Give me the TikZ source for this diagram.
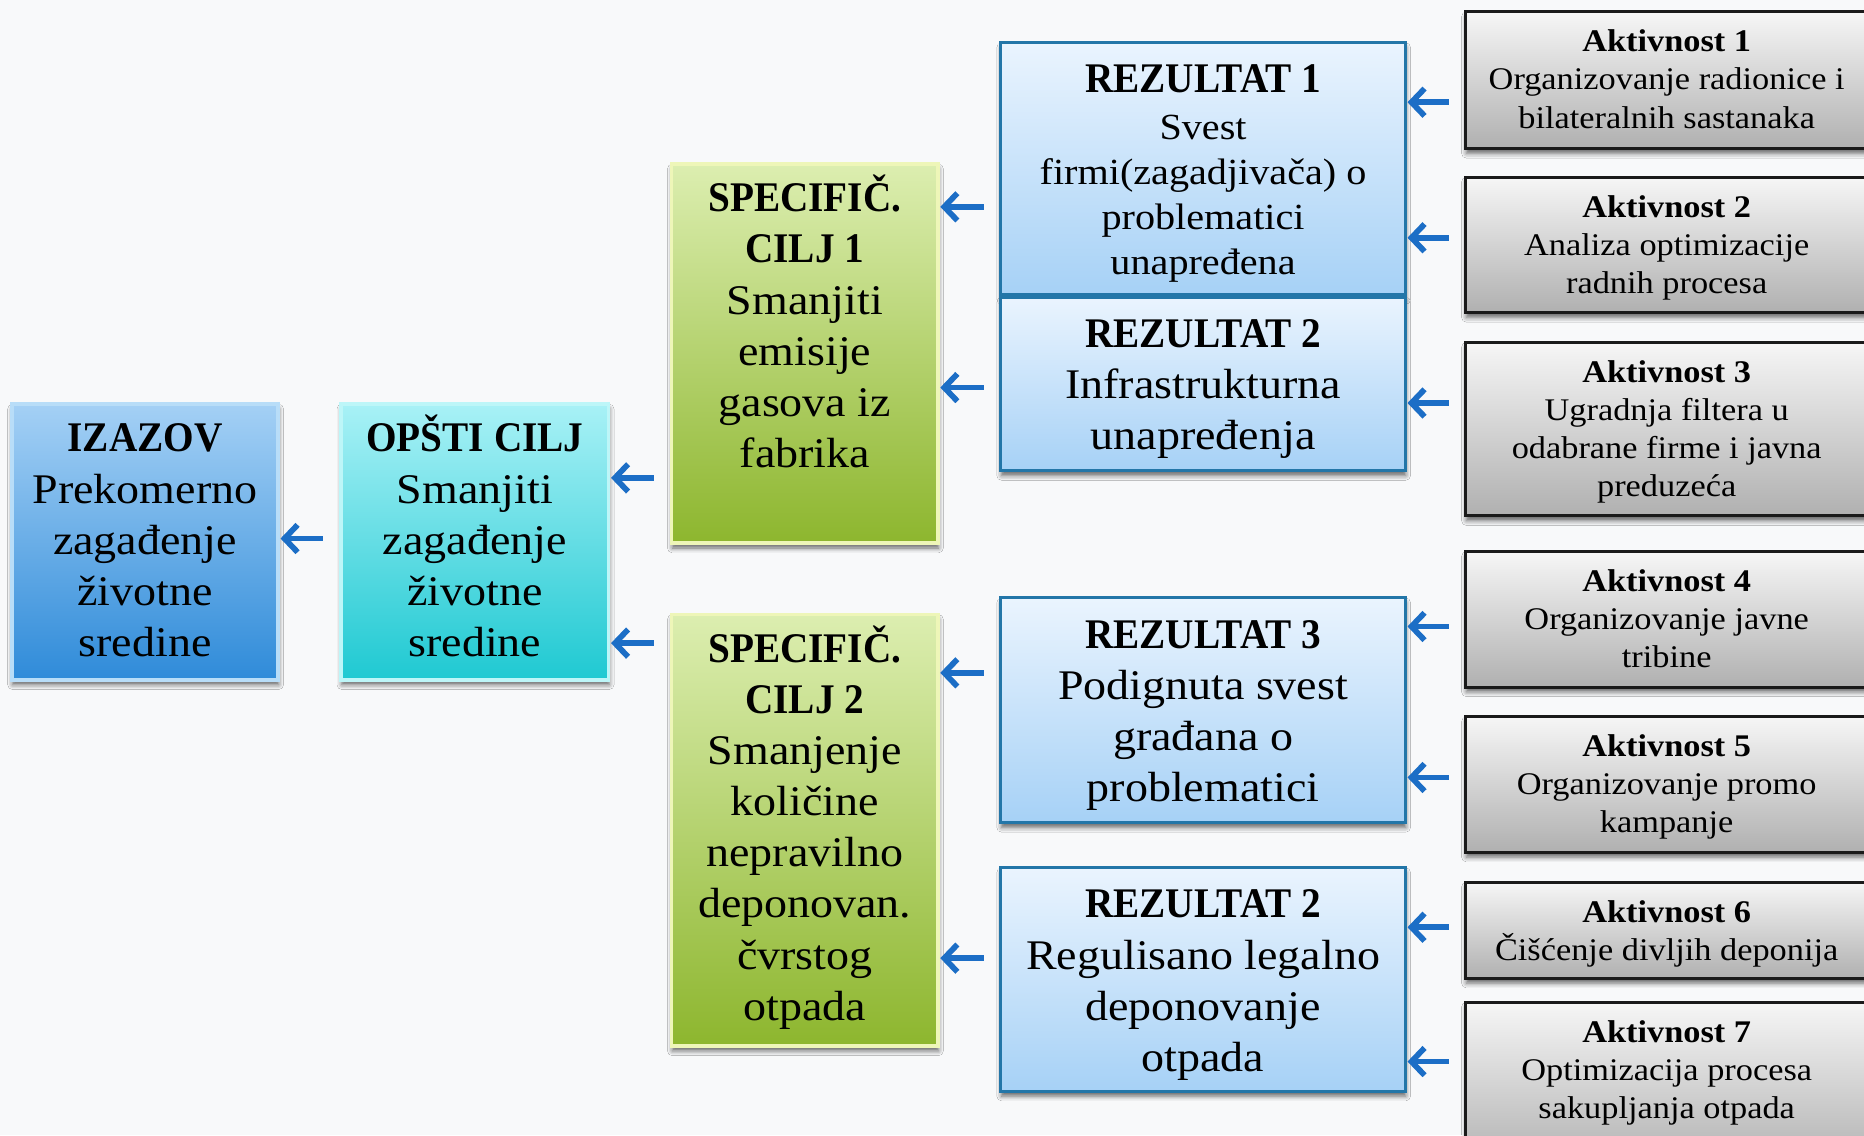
\documentclass[tikz,border=0pt]{standalone}
\usepackage{fontspec}
\setmainfont{Liberation Serif}[FakeStretch=1.09]
\newfontfamily\capsfont{Liberation Serif}[FakeStretch=0.93]
\usetikzlibrary{arrows.meta,shadows.blur}
\definecolor{bg}{HTML}{F8F9FA}
\definecolor{izTop}{HTML}{A4D0F5}
\definecolor{izBot}{HTML}{2F8BD9}
\definecolor{izLine}{HTML}{B8DDF8}
\definecolor{opTop}{HTML}{A8F1F6}
\definecolor{opBot}{HTML}{1FC9D2}
\definecolor{opLine}{HTML}{BDF6F8}
\definecolor{spTop}{HTML}{DCEEB0}
\definecolor{spBot}{HTML}{8DB62E}
\definecolor{spLine}{HTML}{EEF6B8}
\definecolor{rzTop}{HTML}{EAF4FE}
\definecolor{rzBot}{HTML}{A6D1F6}
\definecolor{rzLine}{HTML}{2376A8}
\definecolor{akTop}{HTML}{F6F6F6}
\definecolor{akBot}{HTML}{B0B0B0}
\definecolor{akLine}{HTML}{1A1A1A}
\definecolor{arrblue}{HTML}{1C6EC6}
\newcommand\tsA{\rule{0pt}{34pt}}
\newcommand\tsB{\rule{0pt}{26pt}}
\newcommand\captl[1]{{\capsfont\bfseries #1}}
\begin{document}
\begin{tikzpicture}[x=1pt,y=-1pt,
  box/.style={rectangle, anchor=north west, inner sep=0pt, outer sep=0pt,
    blur shadow={shadow xshift=0.5pt,shadow yshift=-4pt,shadow blur radius=4pt,shadow opacity=60}},
  izbox/.style={box, top color=izTop, bottom color=izBot, draw=izLine, line width=3pt},
  opbox/.style={box, top color=opTop, bottom color=opBot, draw=opLine, line width=3pt},
  spbox/.style={box, top color=spTop, bottom color=spBot, draw=spLine, line width=3pt},
  rzbox/.style={box, top color=rzTop, bottom color=rzBot, draw=rzLine, line width=2.5pt, minimum width=340pt},
  akbox/.style={box, top color=akTop, bottom color=akBot, draw=akLine, line width=2.5pt, minimum width=345pt},
  txt/.style={anchor=north, inner sep=0pt, align=center, text=black},
  bigtxt/.style={txt, font=\fontsize{35.5}{43}\selectfont},
  aktxt/.style={txt, font=\fontsize{26.5}{32}\selectfont},
  arr/.style={draw=arrblue, line width=4.8pt, arrows={Straight Barb[length=11pt,width=23pt]-}, shorten <=2pt}
]
\path[use as bounding box, fill=bg] (0,0) rectangle (1568,955);
\begin{scope}
\clip (0,0) rectangle (1568,955);
% level 1 and 2
\node[izbox, minimum width=224pt, minimum height=232pt] (iz) at (10,340) {};
\node[bigtxt] (izt) at (122,346) {\tsA\captl{IZAZOV}\\Prekomerno\\zagađenje\\životne\\sredine};
\node[opbox, minimum width=225pt, minimum height=232pt] (op) at (287,340) {};
\node[bigtxt] (opt) at (399.5,346) {\tsA\captl{OPŠTI CILJ}\\Smanjiti\\zagađenje\\životne\\sredine};
% specific goals
\node[spbox, minimum width=224pt, minimum height=319pt] (s1) at (565,138) {};
\node[bigtxt] (s1t) at (677,144) {\tsA\captl{SPECIFIČ.}\\\captl{CILJ 1}\\Smanjiti\\emisije\\gasova iz\\fabrika};
\node[spbox, minimum width=224pt, minimum height=363pt] (s2) at (565,517) {};
\node[bigtxt] (s2t) at (677,523) {\tsA\captl{SPECIFIČ.}\\\captl{CILJ 2}\\Smanjenje\\količine\\nepravilno\\deponovan.\\čvrstog\\otpada};
% results
\node[rzbox, minimum height=212pt] (r1) at (842,36) {};
\node[txt, font=\fontsize{31}{38}\selectfont] (r1t) at (1012,44) {\tsA{\fontsize{35.5}{38}\selectfont\captl{REZULTAT 1}}\\[1pt]Svest\\firmi(zagadjivača) o\\problematici\\unapređena};
\node[rzbox, minimum height=146pt] (r2) at (842,250) {};
\node[bigtxt] (r2t) at (1012,258) {\tsA\captl{REZULTAT 2}\\Infrastrukturna\\unapređenja};
\node[rzbox, minimum height=189pt] (r3) at (842,503) {};
\node[bigtxt] (r3t) at (1012,511) {\tsA\captl{REZULTAT 3}\\Podignuta svest\\građana o\\problematici};
\node[rzbox, minimum height=188pt] (r4) at (842,730) {};
\node[bigtxt] (r4t) at (1012,738) {\tsA\captl{REZULTAT 2}\\Regulisano legalno\\deponovanje\\otpada};
% activities
\node[akbox, minimum height=115pt] (a1) at (1233,10) {};
\node[aktxt] (a1t) at (1402,17.5) {\tsB\textbf{Aktivnost 1}\\Organizovanje radionice i\\bilateralnih sastanaka};
\node[akbox, minimum height=114pt] (a2) at (1233,149) {};
\node[aktxt] (a2t) at (1402,156.5) {\tsB\textbf{Aktivnost 2}\\Analiza optimizacije\\radnih procesa};
\node[akbox, minimum height=146pt] (a3) at (1233,288) {};
\node[aktxt] (a3t) at (1402,295.5) {\tsB\textbf{Aktivnost 3}\\Ugradnja filtera u\\odabrane firme i javna\\preduzeća};
\node[akbox, minimum height=114pt] (a4) at (1233,464) {};
\node[aktxt] (a4t) at (1402,471.5) {\tsB\textbf{Aktivnost 4}\\Organizovanje javne\\tribine};
\node[akbox, minimum height=114pt] (a5) at (1233,603) {};
\node[aktxt] (a5t) at (1402,610.5) {\tsB\textbf{Aktivnost 5}\\Organizovanje promo\\kampanje};
\node[akbox, minimum height=81pt] (a6) at (1233,742) {};
\node[aktxt] (a6t) at (1402,749.5) {\tsB\textbf{Aktivnost 6}\\Čišćenje divljih deponija};
\node[akbox, minimum height=140pt] (a7) at (1233,843) {};
\node[aktxt] (a7t) at (1402,850.5) {\tsB\textbf{Aktivnost 7}\\Optimizacija procesa\\sakupljanja otpada};
% arrow tails
\coordinate (t0) at (272,453);
\coordinate (t1) at (550,402);
\coordinate (t2) at (550,541);
\coordinate (t3) at (828,174);
\coordinate (t4) at (828,326);
\coordinate (t5) at (828,566);
\coordinate (t6) at (828,806);
\coordinate (u1) at (1219,86);
\coordinate (u2) at (1219,200);
\coordinate (u3) at (1219,339);
\coordinate (u4) at (1219,527);
\coordinate (u5) at (1219,654);
\coordinate (u6) at (1219,780);
\coordinate (u7) at (1219,893);
% arrows
\draw[arr] (iz.east |- t0) -- (t0);
\draw[arr] (op.east |- t1) -- (t1);
\draw[arr] (op.east |- t2) -- (t2);
\draw[arr] (s1.east |- t3) -- (t3);
\draw[arr] (s1.east |- t4) -- (t4);
\draw[arr] (s2.east |- t5) -- (t5);
\draw[arr] (s2.east |- t6) -- (t6);
\draw[arr] (r1.east |- u1) -- (u1);
\draw[arr] (r1.east |- u2) -- (u2);
\draw[arr] (r2.east |- u3) -- (u3);
\draw[arr] (r3.east |- u4) -- (u4);
\draw[arr] (r3.east |- u5) -- (u5);
\draw[arr] (r4.east |- u6) -- (u6);
\draw[arr] (r4.east |- u7) -- (u7);
\end{scope}
\end{tikzpicture}
\end{document}
